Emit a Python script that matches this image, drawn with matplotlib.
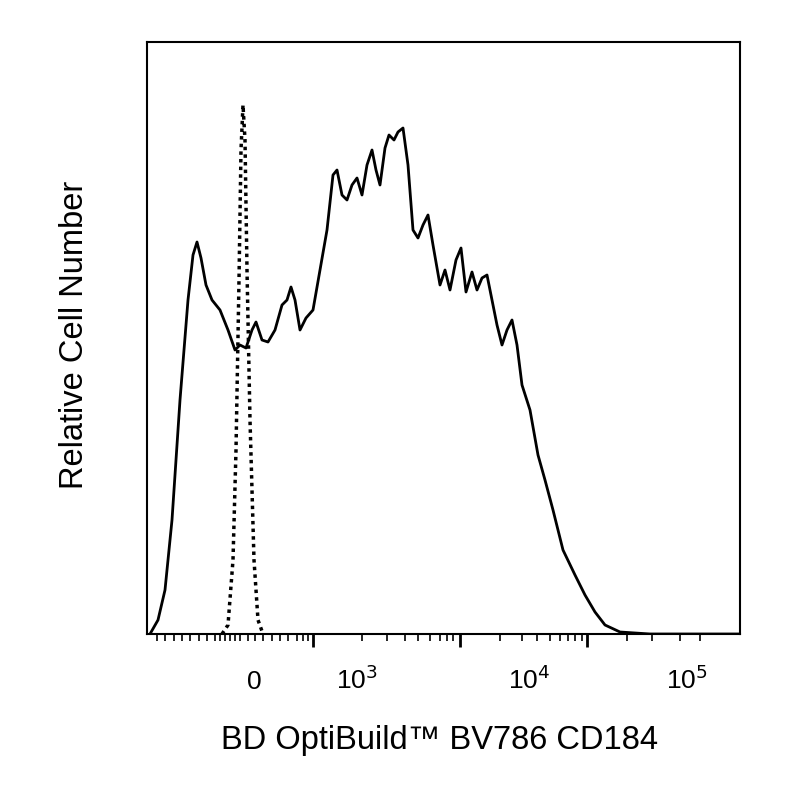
import matplotlib.pyplot as plt
from matplotlib.transforms import blended_transform_factory

plt.rcParams['font.family'] = ['Liberation Sans', 'DejaVu Sans']

# x in display-channel units (biexponential scale), y in relative counts
solid_x = [150, 158, 165, 172, 180, 188, 193, 197, 201, 206, 212, 220, 228, 235, 240, 246, 252, 256,
           262, 268, 275, 282, 287, 291, 295, 300, 306, 313, 320, 327, 333, 337, 342, 347, 352, 357,
           362, 367, 372, 376, 380, 385, 389, 394, 398, 403, 408, 413, 418, 423, 428, 433, 440, 445,
           450, 456, 461, 466, 472, 477, 482, 487, 492, 497, 502, 507, 512, 517, 522, 530, 538, 545,
           553, 563, 575, 585, 595, 605, 620, 650, 740]
solid_py = [634, 620, 590, 520, 400, 300, 255, 242, 258, 285, 300, 310, 330, 350, 345, 348, 330, 322,
            340, 342, 330, 305, 300, 287, 300, 330, 318, 310, 270, 230, 175, 170, 195, 200, 185, 178,
            195, 165, 150, 170, 185, 148, 135, 140, 132, 128, 165, 230, 238, 225, 215, 245, 285, 270,
            290, 260, 248, 292, 272, 290, 278, 275, 300, 325, 345, 330, 320, 345, 385, 410, 455, 480,
            510, 550, 575, 595, 612, 625, 632, 634, 634]
dot_x = [222, 228, 233, 236, 239, 241, 243, 245, 247, 250, 254, 258, 263]
dot_py = [634, 625, 560, 450, 280, 150, 105, 140, 270, 420, 560, 620, 634]

major_ticks = [313, 460, 587]
minor_ticks = [157, 165, 174, 182, 190, 199, 207, 215, 220, 225, 230, 235, 240, 248, 255, 263, 272,
               280, 288, 297, 303, 308, 362, 387, 405, 418, 430, 440, 447, 453, 500, 522, 537, 550,
               560, 568, 575, 582, 627, 652, 680, 700]
tick_labels = ["0", "10$^3$", "10$^4$", "10$^5$"]
label_pos = [254, 357, 529, 687]

fig = plt.figure(figsize=(8, 8), dpi=100)
ax = fig.add_axes([147 / 800, 1 - 634 / 800, 593 / 800, 592 / 800])
ax.plot(solid_x, [634 - v for v in solid_py], color="black", lw=2)
ax.plot(dot_x, [634 - v for v in dot_py], color="black", lw=2.5, ls=(0, (1, 1.2)))
ax.set_xlim(147, 740)
ax.set_ylim(0, 592)
ax.set_yticks([])
ax.set_xticks(major_ticks)
ax.set_xticks(minor_ticks, minor=True)
ax.set_xticklabels([])
ax.tick_params(axis="x", which="major", length=9, width=2, direction="out")
ax.tick_params(axis="x", which="minor", length=5, width=1.2, direction="out")
for s in ax.spines.values():
    s.set_linewidth(1.5)

tr = blended_transform_factory(ax.transData, fig.transFigure)
for lab, p in zip(tick_labels, label_pos):
    ax.text(p, 1 - 694 / 800, lab, transform=tr, ha="center", va="bottom", fontsize=19)

fig.text(440 / 800, 1 - 740 / 800, "BD OptiBuild™ BV786 CD184", ha="center", va="center", fontsize=23.5)
fig.text(75 / 800, 1 - 335 / 800, "Relative Cell Number", ha="center", va="center",
         rotation=90, fontsize=23.5)

fig.savefig("out.png")
